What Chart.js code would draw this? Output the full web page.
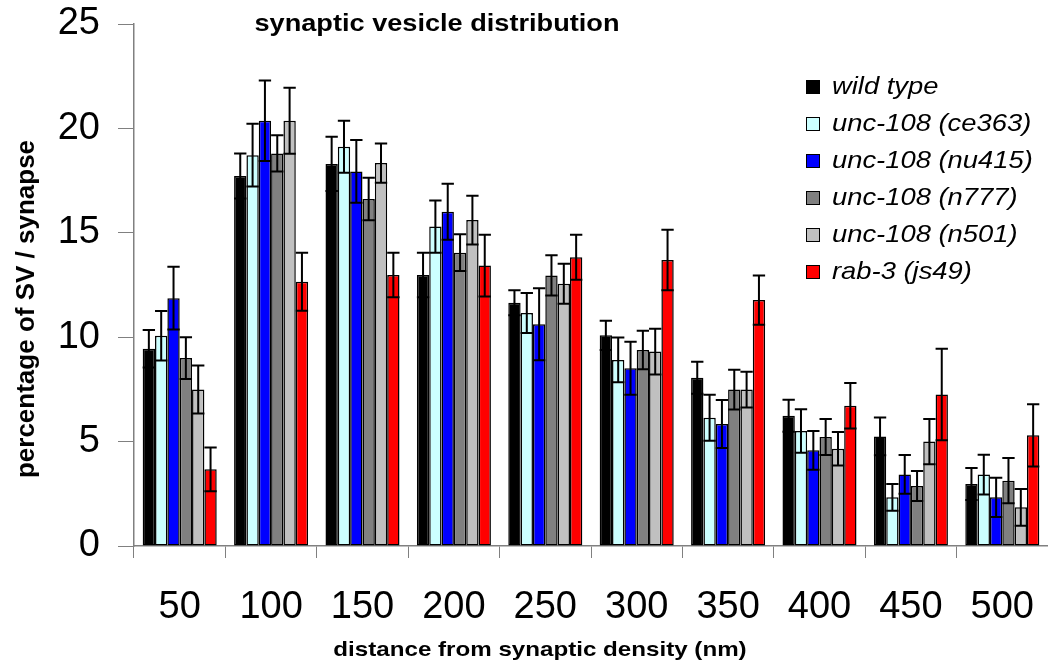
<!DOCTYPE html>
<html>
<head>
<meta charset="utf-8">
<script src="https://cdn.jsdelivr.net/npm/chart.js@4.4.1/dist/chart.umd.min.js"></script>
<style>
  body { margin: 0; background: #fff; }
  #wrap { width: 1048px; height: 666px; }
</style>
</head>
<body>
<div id="wrap"><canvas id="svChart" width="1048" height="666"></canvas></div>
<script>
var distances = ['50', '100', '150', '200', '250', '300', '350', '400', '450', '500'];
var seriesNames = ['wild type', 'unc-108 (ce363)', 'unc-108 (nu415)', 'unc-108 (n777)', 'unc-108 (n501)', 'rab-3 (js49)'];
var seriesColors = ['#000000', '#CCFFFF', '#0000FF', '#808080', '#C0C0C0', '#FF0000'];

var wildType = [9.45, 17.72, 18.3, 12.98, 11.65, 10.09, 8.06, 6.24, 5.25, 2.97];
var ce363 = [10.07, 18.72, 19.12, 15.3, 11.16, 8.91, 6.14, 5.51, 2.33, 3.42];
var nu415 = [11.87, 20.37, 17.94, 16.01, 10.62, 8.51, 5.84, 4.58, 3.43, 2.33];
var n777 = [9.0, 18.8, 16.62, 14.05, 12.96, 9.39, 7.49, 5.22, 2.87, 3.13];
var n501 = [7.5, 20.37, 18.34, 15.61, 12.56, 9.31, 7.49, 4.66, 5.0, 1.85];
var js49 = [3.67, 12.66, 12.98, 13.43, 13.83, 13.7, 11.78, 6.72, 7.26, 5.3];

// standard error, same order as above
var errWildType = [0.9, 1.08, 1.3, 1.07, 0.6, 0.7, 0.77, 0.77, 0.9, 0.77];
var errCe363 = [1.18, 1.5, 1.25, 1.25, 0.96, 1.07, 1.1, 1.04, 0.64, 0.95];
var errNu415 = [1.5, 1.93, 1.5, 1.34, 1.72, 1.27, 1.15, 0.93, 0.93, 0.94];
var errN777 = [1.0, 0.87, 1.02, 0.88, 0.96, 0.92, 0.95, 0.86, 0.72, 1.08];
var errN501 = [1.15, 1.58, 0.94, 1.17, 0.96, 1.1, 0.86, 0.8, 1.08, 0.88];
var errJs49 = [1.05, 1.39, 1.07, 1.48, 1.08, 1.45, 1.18, 1.09, 2.19, 1.49];

var yTicks = [0, 5, 10, 15, 20, 25];

var allValues = [wildType, ce363, nu415, n777, n501, js49];
var allErrors = [errWildType, errCe363, errNu415, errN777, errN501, errJs49];

var datasets = [];
for (var i = 0; i < seriesNames.length; i++) {
    datasets.push({
        label: seriesNames[i],
        data: allValues[i],
        errors: allErrors[i],
        backgroundColor: seriesColors[i],
        borderColor: '#000000',
        borderWidth: 1.5,
        borderSkipped: false,
        categoryPercentage: 0.81,
        barPercentage: 1.0
    });
}

// error bars with caps, drawn through the y scale
var errorBars = {
    id: 'errorBars',
    afterDatasetsDraw: function(chart) {
        var ctx = chart.ctx;
        var y = chart.scales.y;
        ctx.save();
        ctx.strokeStyle = '#000000';
        ctx.lineWidth = 2;
        chart.data.datasets.forEach(function(ds, di) {
            var meta = chart.getDatasetMeta(di);
            meta.data.forEach(function(bar, j) {
                var v = ds.data[j], e = ds.errors[j];
                var top = y.getPixelForValue(v + e);
                var low = y.getPixelForValue(v - e);
                var hw = bar.width / 2;
                ctx.beginPath();
                ctx.moveTo(bar.x, low);
                ctx.lineTo(bar.x, top);
                ctx.moveTo(bar.x - hw, top);
                ctx.lineTo(bar.x + hw, top);
                ctx.moveTo(bar.x - hw, low);
                ctx.lineTo(bar.x + hw, low);
                ctx.stroke();
            });
        });
        ctx.restore();
    }
};

// the original figure is a bit wider than tall, so text is stretched a little
function wideText(ctx, text, x, y, sx) {
    ctx.save();
    ctx.translate(x, y);
    ctx.scale(sx, 1);
    ctx.fillText(text, 0, 0);
    ctx.restore();
}

// title, axis titles and legend placed like the original figure
var extras = {
    id: 'extras',
    afterDraw: function(chart) {
        var ctx = chart.ctx;
        ctx.save();
        ctx.fillStyle = '#000000';
        ctx.textAlign = 'center';
        ctx.textBaseline = 'middle';
        ctx.font = 'bold 23px "Liberation Sans", Arial, sans-serif';
        wideText(ctx, 'synaptic vesicle distribution', 437, 25, 1.18);
        ctx.font = 'bold 21px "Liberation Sans", Arial, sans-serif';
        wideText(ctx, 'distance from synaptic density (nm)', 540, 650, 1.15);

        ctx.font = 'bold 26px "Liberation Sans", Arial, sans-serif';
        ctx.translate(27, 309);
        ctx.rotate(-Math.PI / 2);
        ctx.fillText('percentage of SV / synapse', 0, 0);
        ctx.restore();

        ctx.save();
        ctx.font = 'italic 24px "Liberation Sans", Arial, sans-serif';
        ctx.textAlign = 'left';
        ctx.textBaseline = 'middle';
        chart.data.datasets.forEach(function(ds, i) {
            var cy = 87 + i * 37;
            ctx.fillStyle = ds.backgroundColor;
            ctx.fillRect(806, cy - 7, 14, 14);
            ctx.strokeStyle = '#000000';
            ctx.lineWidth = 1;
            ctx.strokeRect(806.5, cy - 6.5, 13, 13);
            ctx.fillStyle = '#000000';
            wideText(ctx, ds.label, 832, cy, 1.14);
        });
        ctx.restore();
    }
};

var ctx = document.getElementById('svChart').getContext('2d');
var chart = new Chart(ctx, {
    type: 'bar',
    data: {
        labels: distances,
        datasets: datasets
    },
    options: {
        responsive: false,
        animation: false,
        devicePixelRatio: 1,
        layout: { padding: { top: 24, right: -7, left: 0, bottom: 0 } },
        plugins: {
            legend: { display: false },
            tooltip: { enabled: false }
        },
        scales: {
            x: {
                offset: true,
                grid: { offset: true, drawOnChartArea: false, color: '#808080', tickLength: 12 },
                border: { color: '#808080', width: 1.5 },
                ticks: {
                    color: '#000000',
                    padding: 27,
                    maxRotation: 0,
                    font: { family: '"Liberation Sans", Arial, sans-serif', size: 38 }
                },
                afterFit: function(scale) {
                    scale.height = 120;
                    scale.paddingLeft = 0;
                    scale.paddingRight = 0;
                }
            },
            y: {
                min: 0,
                max: 25,
                afterBuildTicks: function(scale) {
                    scale.ticks = yTicks.map(function(v) { return { value: v }; });
                },
                grid: { drawOnChartArea: false, color: '#808080', tickLength: 16 },
                border: { color: '#808080', width: 1.5 },
                ticks: {
                    color: '#000000',
                    padding: 18,
                    font: { family: '"Liberation Sans", Arial, sans-serif', size: 38 }
                },
                afterFit: function(scale) {
                    scale.width = 134;
                    scale.paddingTop = 0;
                    scale.paddingBottom = 0;
                }
            }
        }
    },
    plugins: [errorBars, extras]
});
</script>
</body>
</html>
